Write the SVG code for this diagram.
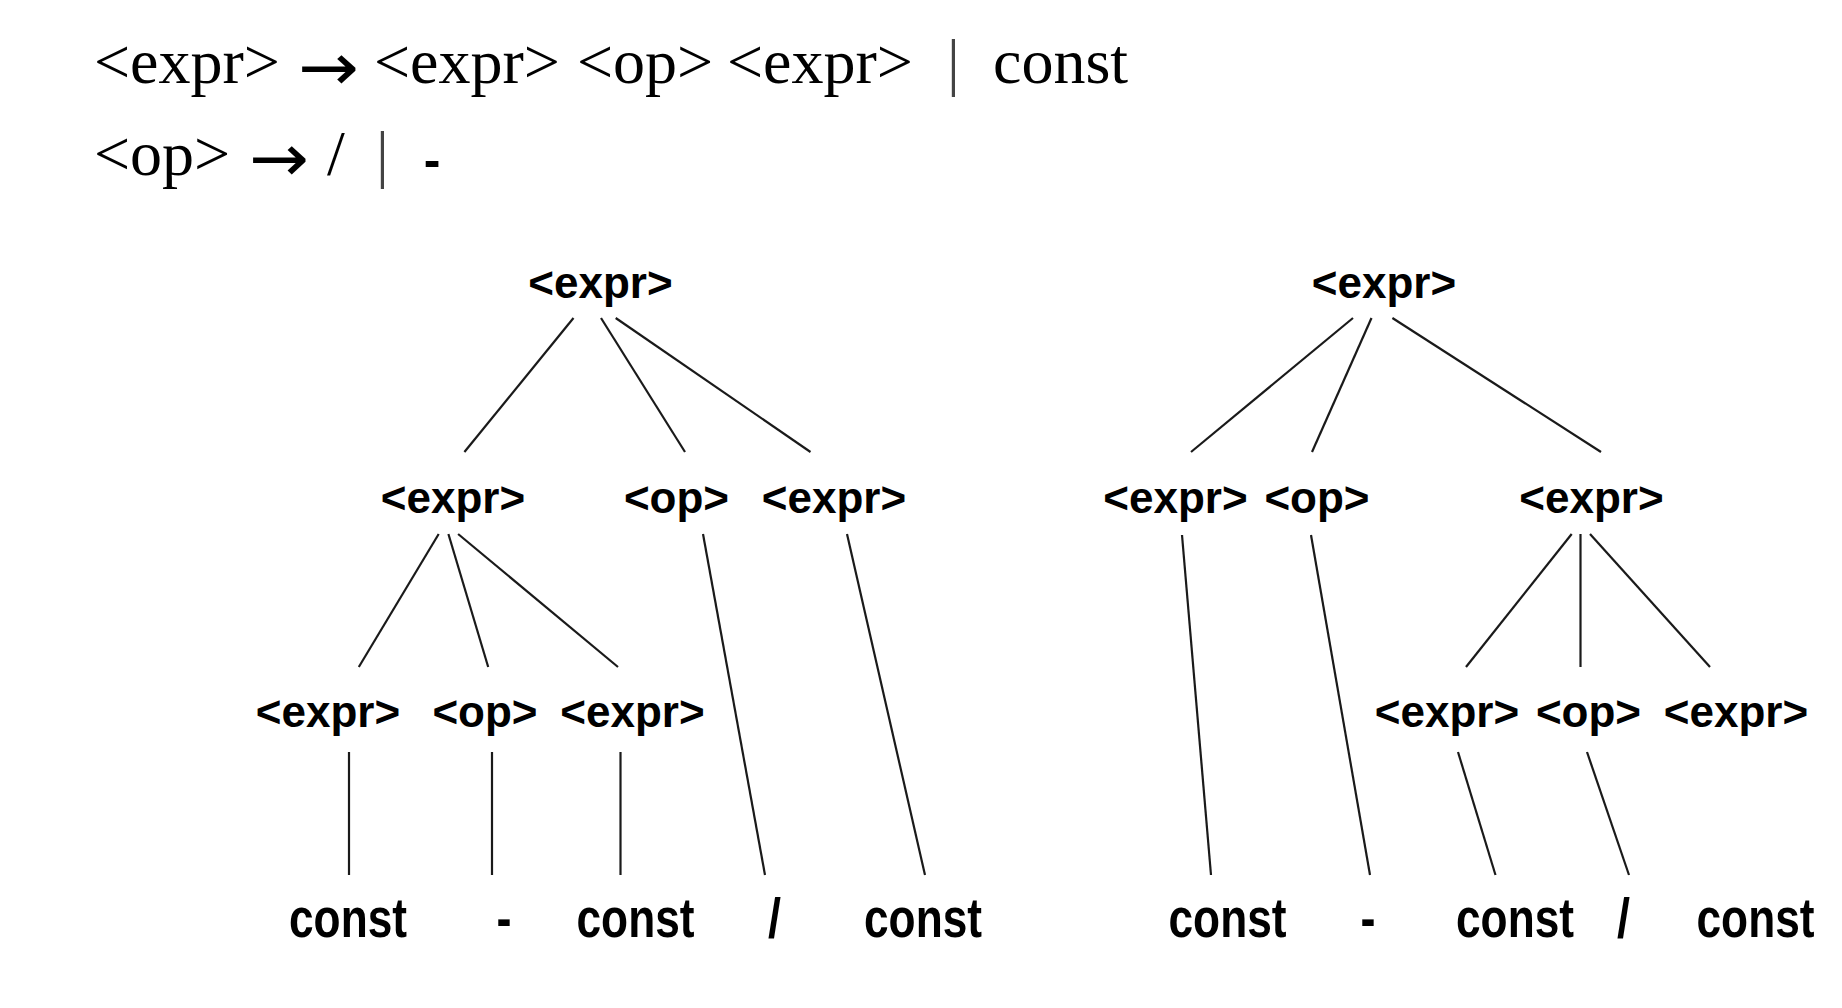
<svg xmlns="http://www.w3.org/2000/svg" width="1842" height="1008" viewBox="0 0 1842 1008">
<style>
.hdr{font-family:"Liberation Serif","Times New Roman",serif;font-size:64px;fill:#000}
.arr{font-family:"DejaVu Sans",sans-serif;font-size:66px;fill:#000}
.bar{fill:#444}
.nd{font-family:"Liberation Sans",Arial,sans-serif;font-weight:bold;font-size:44px;fill:#000;text-anchor:middle}
.lf{font-family:"Liberation Sans",Arial,sans-serif;font-weight:bold;font-size:56px;fill:#000;text-anchor:middle}
.edges line{stroke:#1a1a1a;stroke-width:2.2;fill:none}
</style>
<rect width="1842" height="1008" fill="#fff"/>
<g id="grammar">
  <text class="hdr" x="94" y="83">&lt;expr&gt;</text>
  <text class="arr" x="298" y="90" textLength="61" lengthAdjust="spacingAndGlyphs">→</text>
  <text class="hdr" x="374" y="83">&lt;expr&gt;</text>
  <text class="hdr" x="577" y="83">&lt;op&gt;</text>
  <text class="hdr" x="727" y="83">&lt;expr&gt;</text>
  <text class="hdr bar" x="947" y="83">|</text>
  <text class="hdr" x="993" y="83">const</text>
  <text class="hdr" x="94" y="175">&lt;op&gt;</text>
  <text class="arr" x="249" y="181" textLength="60" lengthAdjust="spacingAndGlyphs">→</text>
  <text class="hdr" x="327" y="175">/</text>
  <text class="hdr bar" x="376" y="175">|</text>
  <text x="432" y="177" font-family="Liberation Sans, Arial, sans-serif" font-weight="bold" font-size="50" text-anchor="middle">-</text>
</g>
<g class="edges" id="connectors">
  <line x1="573.5" y1="318" x2="464.4" y2="452"/>
  <line x1="601" y1="318" x2="685" y2="452"/>
  <line x1="615.7" y1="318" x2="810.5" y2="452"/>
  <line x1="438.7" y1="534" x2="358.8" y2="667"/>
  <line x1="448.4" y1="534" x2="488.2" y2="667"/>
  <line x1="458.1" y1="534" x2="618" y2="667"/>
  <line x1="703" y1="534" x2="765" y2="875"/>
  <line x1="847" y1="534" x2="925" y2="875"/>
  <line x1="349" y1="752" x2="349" y2="875"/>
  <line x1="492" y1="752" x2="492" y2="875"/>
  <line x1="620.5" y1="752" x2="620.5" y2="875"/>
  <line x1="1353" y1="318" x2="1191" y2="452"/>
  <line x1="1371.5" y1="318" x2="1312" y2="452"/>
  <line x1="1392.4" y1="318" x2="1601" y2="452"/>
  <line x1="1182" y1="535" x2="1211" y2="875"/>
  <line x1="1311" y1="535" x2="1370" y2="875"/>
  <line x1="1571.7" y1="534" x2="1466" y2="667"/>
  <line x1="1580.5" y1="534" x2="1580.5" y2="667"/>
  <line x1="1590" y1="534" x2="1710" y2="667"/>
  <line x1="1458" y1="752" x2="1495.5" y2="875"/>
  <line x1="1587" y1="752" x2="1629" y2="875"/>
</g>
<g id="left-root"><text class="nd" x="600.5" y="298">&lt;expr&gt;</text></g>
<g id="left-l2-expr1"><text class="nd" x="453" y="513">&lt;expr&gt;</text></g>
<g id="left-l2-op"><text class="nd" x="676.5" y="513">&lt;op&gt;</text></g>
<g id="left-l2-expr2"><text class="nd" x="834" y="513">&lt;expr&gt;</text></g>
<g id="left-l3-expr1"><text class="nd" x="328" y="727">&lt;expr&gt;</text></g>
<g id="left-l3-op"><text class="nd" x="485" y="727">&lt;op&gt;</text></g>
<g id="left-l3-expr2"><text class="nd" x="632.5" y="727">&lt;expr&gt;</text></g>
<g id="left-leaf1"><text class="lf" x="348" y="937" textLength="118" lengthAdjust="spacingAndGlyphs">const</text></g>
<g id="left-leaf2"><text class="lf" x="504" y="937" textLength="15" lengthAdjust="spacingAndGlyphs">-</text></g>
<g id="left-leaf3"><text class="lf" x="635.5" y="937" textLength="118" lengthAdjust="spacingAndGlyphs">const</text></g>
<g id="left-leaf4"><text class="lf" x="774.5" y="937" textLength="13" lengthAdjust="spacingAndGlyphs">/</text></g>
<g id="left-leaf5"><text class="lf" x="923" y="937" textLength="118" lengthAdjust="spacingAndGlyphs">const</text></g>
<g id="right-root"><text class="nd" x="1384" y="298">&lt;expr&gt;</text></g>
<g id="right-l2-expr1"><text class="nd" x="1175.5" y="513">&lt;expr&gt;</text></g>
<g id="right-l2-op"><text class="nd" x="1317" y="513">&lt;op&gt;</text></g>
<g id="right-l2-expr2"><text class="nd" x="1591.5" y="513">&lt;expr&gt;</text></g>
<g id="right-l3-expr1"><text class="nd" x="1447" y="727">&lt;expr&gt;</text></g>
<g id="right-l3-op"><text class="nd" x="1588.5" y="727">&lt;op&gt;</text></g>
<g id="right-l3-expr2"><text class="nd" x="1736" y="727">&lt;expr&gt;</text></g>
<g id="right-leaf1"><text class="lf" x="1227.5" y="937" textLength="118" lengthAdjust="spacingAndGlyphs">const</text></g>
<g id="right-leaf2"><text class="lf" x="1368" y="937" textLength="15" lengthAdjust="spacingAndGlyphs">-</text></g>
<g id="right-leaf3"><text class="lf" x="1515" y="937" textLength="118" lengthAdjust="spacingAndGlyphs">const</text></g>
<g id="right-leaf4"><text class="lf" x="1623.5" y="937" textLength="13" lengthAdjust="spacingAndGlyphs">/</text></g>
<g id="right-leaf5"><text class="lf" x="1755.5" y="937" textLength="118" lengthAdjust="spacingAndGlyphs">const</text></g>
</svg>
